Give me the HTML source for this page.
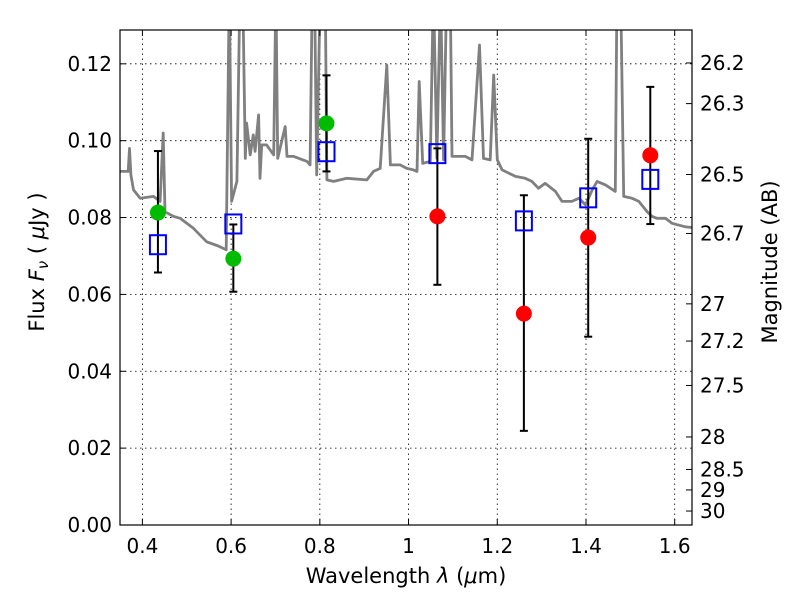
<!DOCTYPE html>
<html><head><meta charset="utf-8"><style>
body{margin:0;background:#fff;}
svg text{font-family:"DejaVu Sans","Liberation Sans",sans-serif;}
</style></head><body>
<svg id="chart" width="800" height="600" xmlns="http://www.w3.org/2000/svg">
<rect width="800" height="600" fill="#fff"/>
<defs><clipPath id="pc"><rect x="120" y="30" width="572" height="495"/></clipPath></defs>
<g id="grid"></g>
<g id="spec" clip-path="url(#pc)"></g>
<g id="marks"></g>
<rect x="120" y="30" width="572" height="495" fill="none" stroke="#000" stroke-width="1.2"/>
<g id="axes"></g>
<text x="406" y="583" font-size="21" text-anchor="middle">Wavelength  <tspan font-style="italic">λ</tspan> (<tspan font-style="italic">μ</tspan>m)</text>
<text transform="translate(44,262) rotate(-90)" font-size="21" text-anchor="middle">Flux  <tspan font-style="italic">F<tspan font-size="15" dy="4">ν</tspan></tspan><tspan dy="-4">  ( </tspan><tspan font-style="italic">μ</tspan>Jy )</text>
<text transform="translate(777,262) rotate(-90)" font-size="21" text-anchor="middle">Magnitude (AB)</text>
</svg>
<script>
const specWl=[0.335,0.350,0.368,0.371,0.374,0.380,0.395,0.425,0.440,0.447,0.451,0.470,0.485,0.515,0.545,0.571,0.589,0.596,0.601,0.613,0.620,0.626,0.632,0.635,0.643,0.650,0.654,0.662,0.665,0.669,0.680,0.696,0.701,0.705,0.722,0.726,0.741,0.771,0.778,0.783,0.788,0.793,0.801,0.812,0.816,0.831,0.861,0.906,0.921,0.936,0.951,0.959,0.981,0.996,1.011,1.019,1.024,1.032,1.049,1.056,1.064,1.072,1.079,1.086,1.094,1.098,1.128,1.143,1.160,1.169,1.184,1.192,1.200,1.211,1.241,1.263,1.278,1.293,1.308,1.331,1.346,1.368,1.384,1.399,1.414,1.425,1.444,1.466,1.470,1.478,1.485,1.504,1.519,1.538,1.549,1.560,1.579,1.594,1.624,1.639];
const specFlux=[0.0933,0.0920,0.0920,0.098,0.0911,0.0872,0.0850,0.0855,0.0842,0.102,0.0815,0.0803,0.0798,0.0772,0.0737,0.0726,0.0716,0.14,0.0842,0.0894,0.14,0.14,0.0954,0.1046,0.0963,0.1015,0.0972,0.1067,0.0902,0.0989,0.0989,0.0963,0.14,0.0954,0.1037,0.0959,0.0959,0.0946,0.0937,0.14,0.14,0.0911,0.14,0.14,0.0898,0.0894,0.0902,0.0898,0.0920,0.0928,0.1197,0.0937,0.0937,0.0928,0.0924,0.0920,0.1154,0.0941,0.0946,0.14,0.0954,0.14,0.0950,0.14,0.14,0.0959,0.0959,0.0950,0.1249,0.0954,0.0950,0.1171,0.0950,0.0924,0.0907,0.0902,0.0894,0.0876,0.0889,0.0868,0.0842,0.0842,0.0850,0.0833,0.0872,0.0894,0.0885,0.0868,0.14,0.14,0.0855,0.0850,0.0842,0.0815,0.0803,0.0798,0.0798,0.0785,0.0776,0.0774];
const bandWl=[0.435,0.605,0.815,1.065,1.26,1.405,1.545];
const obsFlux=[0.0813,0.0693,0.1045,0.0803,0.055,0.0748,0.0962];
const obsColor=["#00bb00","#00bb00","#00bb00","#ff0000","#ff0000","#ff0000","#ff0000"];
const modelFlux=[0.0728,0.0782,0.097,0.0965,0.079,0.085,0.0898];
const errLo=[0.0657,0.0607,0.092,0.0625,0.0245,0.049,0.0783];
const errHi=[0.0973,0.0782,0.117,0.098,0.0858,0.1005,0.114];
const xTicks=[0.4,0.6,0.8,1.0,1.2,1.4,1.6];
const xTickLabels=["0.4","0.6","0.8","1","1.2","1.4","1.6"];
const yTicks=[0,0.02,0.04,0.06,0.08,0.10,0.12];
const magTicks=[26.2,26.3,26.5,26.7,27,27.2,27.5,28,28.5,29,30];

const X0=120,X1=692,Y0=525,Y1=30,xmin=0.3495,xmax=1.639,ymin=0,ymax=0.1288;
const sx=v=>X0+(v-xmin)/(xmax-xmin)*(X1-X0);
const sy=v=>Y0-(v-ymin)/(ymax-ymin)*(Y0-Y1);
const NS="http://www.w3.org/2000/svg";
function mk(tag,attrs,parent){const e=document.createElementNS(NS,tag);for(const k in attrs)e.setAttribute(k,attrs[k]);parent.appendChild(e);return e;}
const grid=document.getElementById('grid'),axes=document.getElementById('axes'),spec=document.getElementById('spec'),marks=document.getElementById('marks');
xTicks.forEach((t,i)=>{const x=sx(t);
 const g=mk('line',{x1:x,x2:x,y1:Y0,y2:Y1,stroke:'#000','stroke-width':0.8,'stroke-dasharray':'1.5,3.5'},grid);
 
 mk('line',{x1:x,x2:x,y1:Y0,y2:Y0-6,stroke:'#000'},axes);mk('line',{x1:x,x2:x,y1:Y1,y2:Y1+6,stroke:'#000'},axes);
 const tx=mk('text',{x:x,y:Y0+28,'font-size':20,'text-anchor':'middle'},axes);tx.textContent=xTickLabels[i];
 });
yTicks.forEach(t=>{const y=sy(t);
 const g=mk('line',{x1:X0,x2:X1,y1:y,y2:y,stroke:'#000','stroke-width':0.8,'stroke-dasharray':'1.5,3.5'},grid);
 
 mk('line',{x1:X0,x2:X0+6,y1:y,y2:y,stroke:'#000'},axes);
 const tx=mk('text',{x:X0-8,y:y+7,'font-size':20,'text-anchor':'end'},axes);tx.textContent=t.toFixed(2);
 });
magTicks.forEach(m=>{const f=Math.pow(10,(23.9-m)/2.5);const y=sy(f);
 mk('line',{x1:X1,x2:X1-6,y1:y,y2:y,stroke:'#000'},axes);
 const tx=mk('text',{x:X1+8,y:y+7,'font-size':20},axes);tx.textContent=String(m);
 });
let d='';specWl.forEach((w,i)=>{d+=(i?'L':'M')+sx(w).toFixed(1)+','+sy(specFlux[i]).toFixed(1);});
const sp=mk('path',{d:d,fill:'none',stroke:'#808080','stroke-width':2.8,'stroke-linejoin':'round'},spec);

bandWl.forEach((w,i)=>{const x=sx(w);
 const eb=mk('g',{stroke:'#000','stroke-width':2},marks);
 
 mk('line',{x1:x,x2:x,y1:sy(errLo[i]),y2:sy(errHi[i])},eb);
 mk('line',{x1:x-4,x2:x+4,y1:sy(errLo[i]),y2:sy(errLo[i])},eb);
 mk('line',{x1:x-4,x2:x+4,y1:sy(errHi[i]),y2:sy(errHi[i])},eb);
 const c=mk('circle',{cx:x,cy:sy(obsFlux[i]),r:8,fill:obsColor[i]},marks);
 
 const s=mk('rect',{x:x-8,y:sy(modelFlux[i])-10,width:16,height:19,fill:'none',stroke:'#0000ff','stroke-width':2},marks);
 });
</script>
</body></html>
